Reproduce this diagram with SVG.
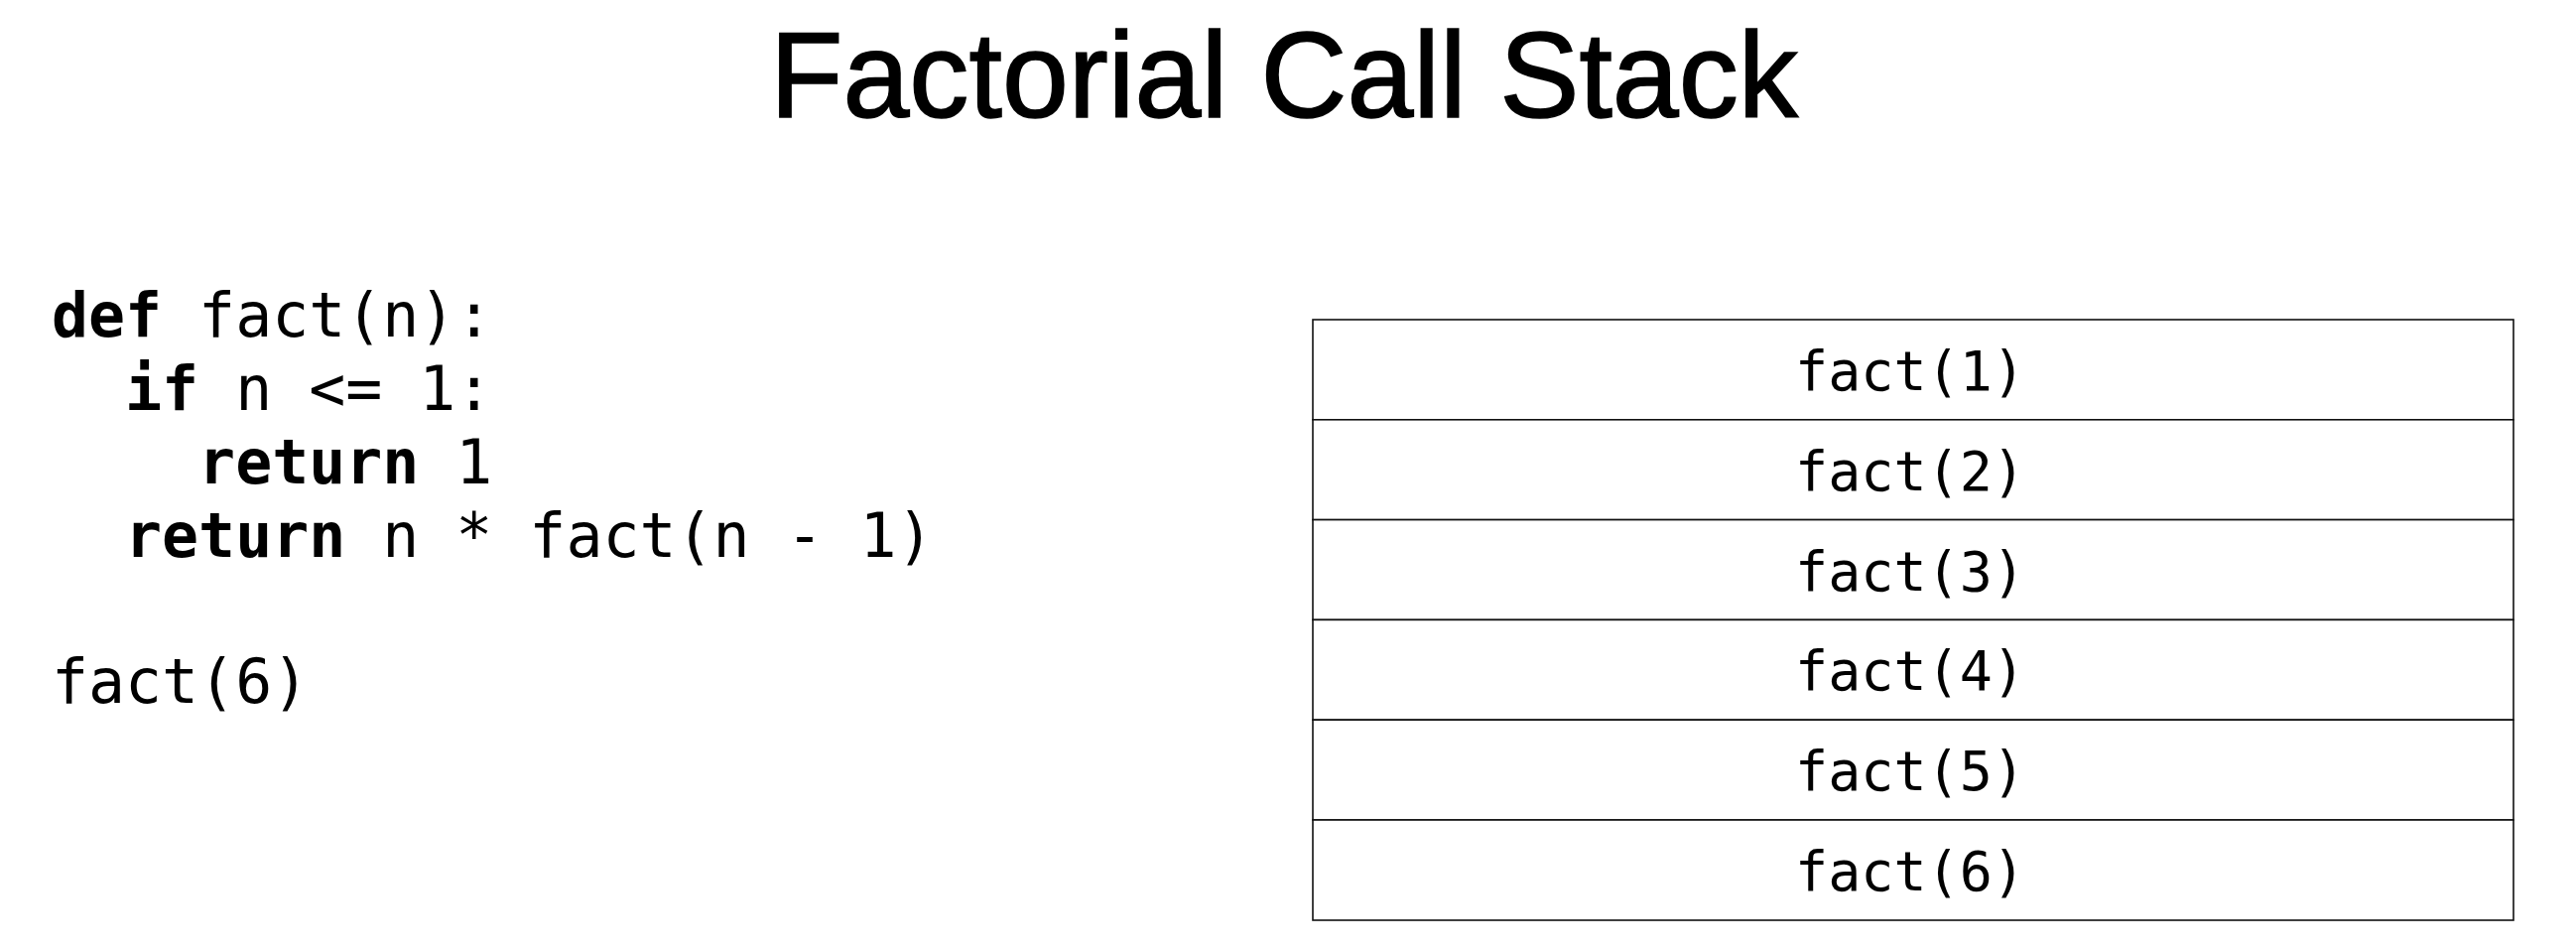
<svg xmlns="http://www.w3.org/2000/svg" width="2596" height="958" viewBox="0 0 2596 958">
<style>
.title{font-family:"Liberation Sans",Arial,sans-serif;font-size:123px;fill:#000;stroke:#000;stroke-width:1.6}
.code{font-family:"DejaVu Sans Mono","Liberation Mono",monospace;font-size:61.5px;fill:#000;white-space:pre}
.kw{font-weight:bold}
.frame{fill:#fff;stroke:#111;stroke-width:1.6}
.lbl{font-family:"DejaVu Sans Mono","Liberation Mono",monospace;font-size:55px;fill:#000;text-anchor:middle}
</style>
<rect width="2596" height="958" fill="#fff"/>
<g id="title"><text class="title" x="776" y="118" textLength="1036" lengthAdjust="spacingAndGlyphs">Factorial Call Stack</text></g>
<g id="code">
<text class="code" x="52" y="339" xml:space="preserve"><tspan class="kw">def</tspan> fact(n):</text>
<text class="code" x="52" y="413" xml:space="preserve">  <tspan class="kw">if</tspan> n &lt;= 1:</text>
<text class="code" x="52" y="487" xml:space="preserve">    <tspan class="kw">return</tspan> 1</text>
<text class="code" x="52" y="561" xml:space="preserve">  <tspan class="kw">return</tspan> n * fact(n - 1)</text>
<text class="code" x="52" y="708" xml:space="preserve">fact(6)</text>
</g>
<g id="stack">
<g id="frame1"><rect class="frame" x="1323" y="322" width="1210" height="100.8"/><text class="lbl" x="1925" y="393">fact(1)</text></g>
<g id="frame2"><rect class="frame" x="1323" y="422.8" width="1210" height="100.8"/><text class="lbl" x="1925" y="493.8">fact(2)</text></g>
<g id="frame3"><rect class="frame" x="1323" y="523.6" width="1210" height="100.8"/><text class="lbl" x="1925" y="594.6">fact(3)</text></g>
<g id="frame4"><rect class="frame" x="1323" y="624.4" width="1210" height="100.8"/><text class="lbl" x="1925" y="695.4">fact(4)</text></g>
<g id="frame5"><rect class="frame" x="1323" y="725.2" width="1210" height="100.8"/><text class="lbl" x="1925" y="796.2">fact(5)</text></g>
<g id="frame6"><rect class="frame" x="1323" y="826" width="1210" height="101"/><text class="lbl" x="1925" y="897">fact(6)</text></g>
</g>
</svg>
